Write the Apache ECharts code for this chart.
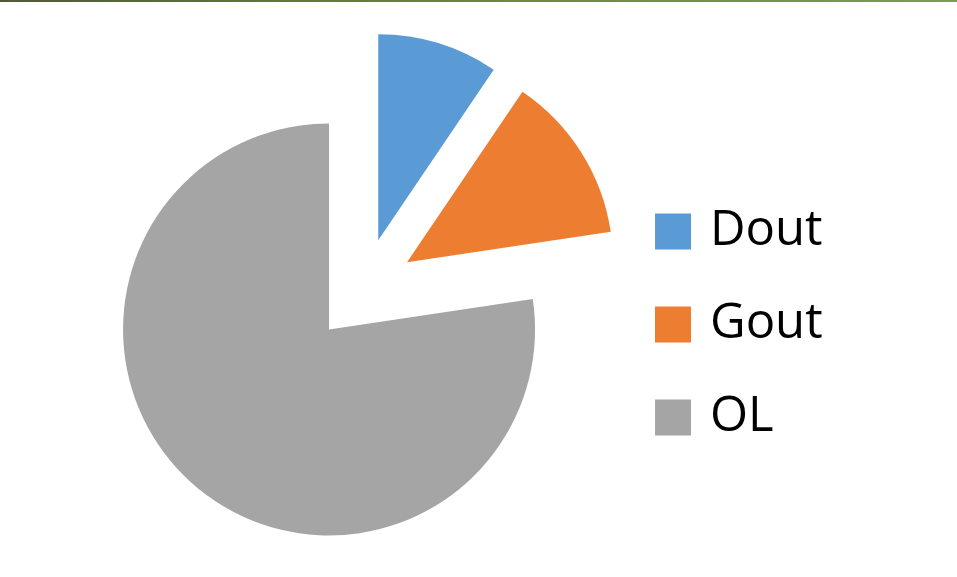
<!DOCTYPE html>
<html>
<head>
<meta charset="utf-8">
<script src="https://cdn.jsdelivr.net/npm/echarts@6/dist/echarts.min.js"></script>
<style>
  html, body { margin: 0; padding: 0; background: #ffffff; }
  #chart { width: 957px; height: 577px; }
</style>
</head>
<body>
<div id="chart"></div>
<script>
// Share of each component (percent)
const categories = ['Dout', 'Gout', 'OL'];
const shares = [9.47, 13.17, 77.36];
const colors = ['#5B9BD5', '#ED7D31', '#A5A5A5'];

const chart = echarts.init(document.getElementById('chart'), null, { renderer: 'canvas' });

const pieData = categories.map((name, i) => ({
  name: name,
  value: shares[i],
  selected: true,
  itemStyle: { color: colors[i] }
}));

chart.setOption({
  animation: false,
  backgroundColor: '#ffffff',
  graphic: [{
    type: 'rect',
    left: 0, top: 0,
    shape: { width: 957, height: 2 },
    style: {
      fill: new echarts.graphic.LinearGradient(0, 0, 1, 0, [
        { offset: 0, color: '#4e5a38' },
        { offset: 0.3, color: '#62783a' },
        { offset: 0.6, color: '#6f8c40' },
        { offset: 1, color: '#7d9c4e' }
      ])
    },
    silent: true
  }],
  legend: {
    orient: 'vertical',
    left: 655,
    top: 207,
    padding: 0,
    itemWidth: 36,
    itemHeight: 36,
    itemGap: 44,
    icon: 'rect',
    selectedMode: false,
    data: categories,
    textStyle: {
      fontFamily: 'Open Sans',
      fontSize: 49,
      color: '#000000',
      lineHeight: 36,
      padding: [0, 0, 0, 14]
    }
  },
  series: [{
    type: 'pie',
    center: [363, 290],
    radius: [0, 206],
    startAngle: 90,
    clockwise: true,
    selectedMode: 'multiple',
    selectedOffset: 52,
    label: { show: false },
    labelLine: { show: false },
    emphasis: { disabled: true },
    itemStyle: { borderWidth: 0 },
    data: pieData
  }]
});
</script>
</body>
</html>
